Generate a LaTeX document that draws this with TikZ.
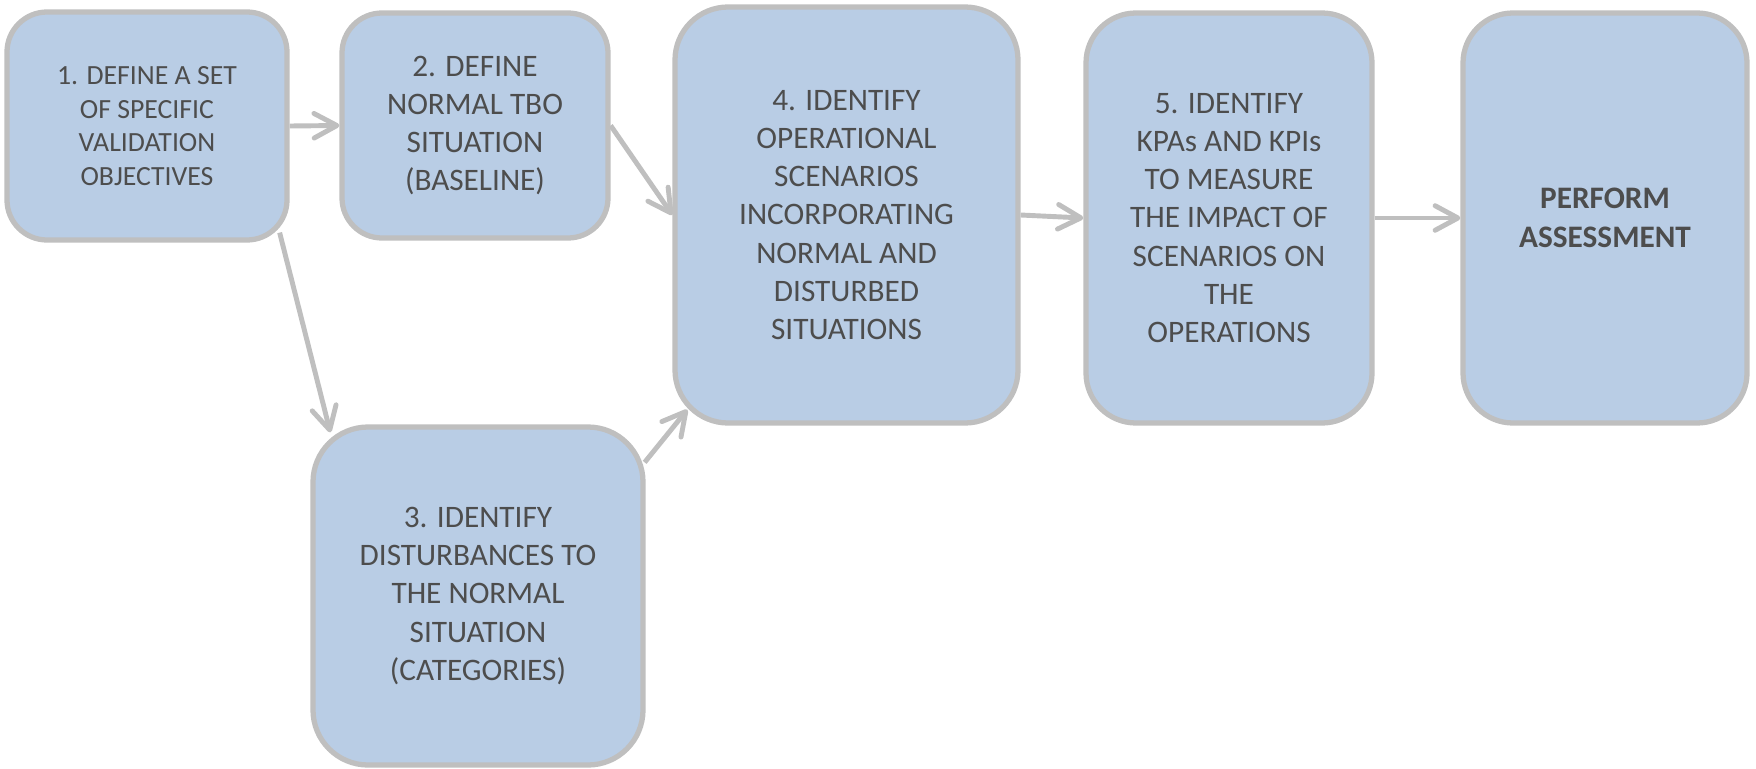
\documentclass[tikz,border=0pt]{standalone}
\usepackage{fontspec}
\setmainfont{Carlito}
\definecolor{boxblue}{RGB}{185, 205, 229}
\definecolor{edgegray}{RGB}{191, 191, 191}
\definecolor{textgray}{RGB}{77, 77, 77}
\usepackage{tikz}
\usetikzlibrary{arrows.meta, calc}

\begin{document}
\begin{tikzpicture}[x=1mm, y=-1mm,
  stepbox/.style={draw=edgegray, fill=boxblue, line width=1.5pt, rounded corners=5.3mm, align=center, text=textgray, inner sep=0pt, font=\fontsize{8.9}{10.9}\selectfont},
  flow/.style={draw=edgegray, line width=1.4pt, -{Straight Barb[length=6.5pt, width=7pt, round]}}]
  \useasboundingbox (0, 0) rectangle (175.6, 76.8);

  % Top row of steps
  \node[stepbox, minimum width=28mm, minimum height=22.8mm, rounded corners=4mm, font=\fontsize{7.9}{9.6}\selectfont] (objectives) at (14.7, 12.6) {1. DEFINE A SET\\OF SPECIFIC\\VALIDATION\\OBJECTIVES};
  \node[stepbox, minimum width=26.6mm, minimum height=22.5mm, rounded corners=4mm] (baseline) at (47.5, 12.55) {2. DEFINE\\NORMAL TBO\\SITUATION\\(BASELINE)};
  \node[stepbox, minimum width=34.3mm, minimum height=41.6mm] (scenarios) at (84.65, 21.5) {4. IDENTIFY\\OPERATIONAL\\SCENARIOS\\INCORPORATING\\NORMAL AND\\DISTURBED\\SITUATIONS};
  \node[stepbox, minimum width=28.6mm, minimum height=41mm, rounded corners=5mm] (kpis) at (122.9, 21.8) {5. IDENTIFY\\KPAs AND KPIs\\TO MEASURE\\THE IMPACT OF\\SCENARIOS ON\\THE\\OPERATIONS};
  \node[stepbox, minimum width=28.4mm, minimum height=41mm, rounded corners=5mm, font=\fontsize{8.9}{10.9}\selectfont\bfseries] (assess) at (160.5, 21.8) {PERFORM\\ASSESSMENT};

  % Disturbances below
  \node[stepbox, minimum width=33mm, minimum height=33.8mm, rounded corners=5.5mm] (disturb) at (47.8, 59.6) {3. IDENTIFY\\DISTURBANCES TO\\THE NORMAL\\SITUATION\\(CATEGORIES)};

  % Arrows
  \draw[flow] (objectives.east) -- (baseline.west);
  \draw[flow] ($(objectives.south east)+(-1, -1)$) -- ($(disturb.north west)+(2, 0.8)$);
  \draw[flow] (baseline.east) -- (scenarios.west);
  \draw[flow] ($(disturb.north east)+(-0.1, 3.8)$) -- ($(scenarios.south west)+(1.5, -1.6)$);
  \draw[flow] (scenarios.east) -- (kpis.west);
  \draw[flow] (kpis.east) -- (assess.west);
\end{tikzpicture}
\end{document}
